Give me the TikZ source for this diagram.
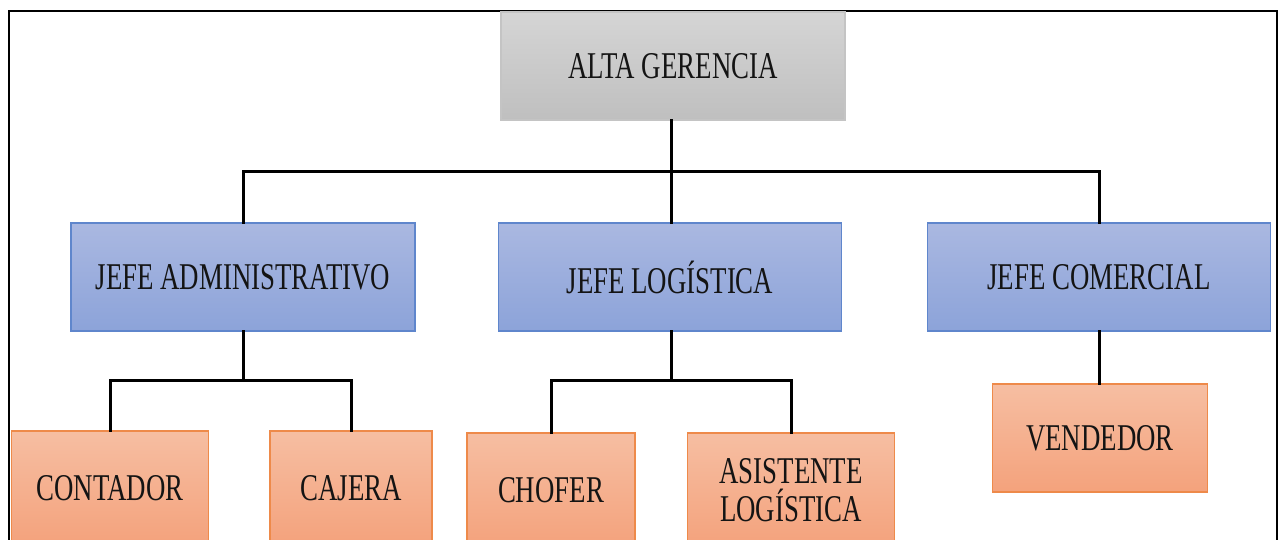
\documentclass[tikz,border=0pt]{standalone}
\usepackage{fontspec}
\setmainfont{Liberation Serif}
\newfontfamily\boxfont[FakeStretch=0.71]{Liberation Serif}
\usetikzlibrary{positioning}

\definecolor{greyTop}{HTML}{D5D5D5}
\definecolor{greyBot}{HTML}{BFBFBF}
\definecolor{greyLine}{HTML}{C4C4C4}
\definecolor{blueTop}{HTML}{AAB8E1}
\definecolor{blueBot}{HTML}{8CA3D9}
\definecolor{blueLine}{HTML}{5F86CC}
\definecolor{orangeTop}{HTML}{F6BEA2}
\definecolor{orangeBot}{HTML}{F4A27C}
\definecolor{orangeLine}{HTML}{EE8A4A}

\tikzset{
  unit/.style={rectangle, inner sep=0pt, line width=1.2pt, align=center,
    font=\boxfont\fontsize{37.8}{40}\selectfont, text=black!92},
  topbox/.style={unit, draw=greyLine, top color=greyTop, bottom color=greyBot},
  headbox/.style={unit, draw=blueLine, top color=blueTop, bottom color=blueBot},
  staffbox/.style={unit, draw=orangeLine, top color=orangeTop, bottom color=orangeBot},
  link/.style={line width=3pt, black, line cap=rect},
}

\begin{document}
\begin{tikzpicture}[x=1pt, y=-1pt]
  \useasboundingbox (0,0) rectangle (1283,540);
  \clip (0,0) rectangle (1283,540);
  \fill[white] (0,0) rectangle (1283,540);

  % outer frame
  \draw[line width=2pt, black] (9,560) -- (9,11) -- (1277,11) -- (1277,560);

  % boxes (positions given by their centres)
  \node[topbox, minimum width=344pt, minimum height=108pt] (alta) at (673,66) {ALTA GERENCIA};

  \node[headbox, minimum width=344pt, minimum height=108pt] (adm) at (243,277) {JEFE ADMINISTRATIVO};
  \node[headbox, minimum width=343pt, minimum height=108pt] (log) at (670,277) {JEFE LOGÍSTICA};
  \node[headbox, minimum width=343pt, minimum height=108pt] (com) at (1099,277) {JEFE COMERCIAL};

  \node[staffbox, minimum width=197pt, minimum height=114pt] (cont) at (110,488) {CONTADOR};
  \node[staffbox, minimum width=162pt, minimum height=114pt] (caj) at (351,488) {CAJERA};
  \node[staffbox, minimum width=168pt, minimum height=114pt] (chof) at (551,490) {CHOFER};
  \node[staffbox, minimum width=207pt, minimum height=114pt] (asis) at (791,490) {ASISTENTE\\[-2pt]LOGÍSTICA};
  \node[staffbox, minimum width=215pt, minimum height=108pt] (vend) at (1100,438) {VENDEDOR};

  % junction points of the tree
  \coordinate (j0) at (671,172);
  \coordinate (j1) at (243,380);
  \coordinate (j2) at (671,380);

  % connectors
  \draw[link] (alta.south -| j0) -- (j0);
  \draw[link] (adm.north) |- (j0) -| (com.north);
  \draw[link] (j0) -- (log.north -| j0);

  \draw[link] (adm.south) -- (j1);
  \draw[link] (cont.north) |- (j1) -| (caj.north);

  \draw[link] (log.south -| j2) -- (j2);
  \draw[link] (chof.north) |- (j2) -| (asis.north);

  \draw[link] (com.south) -- (vend.north -| com.south);
\end{tikzpicture}
\end{document}
